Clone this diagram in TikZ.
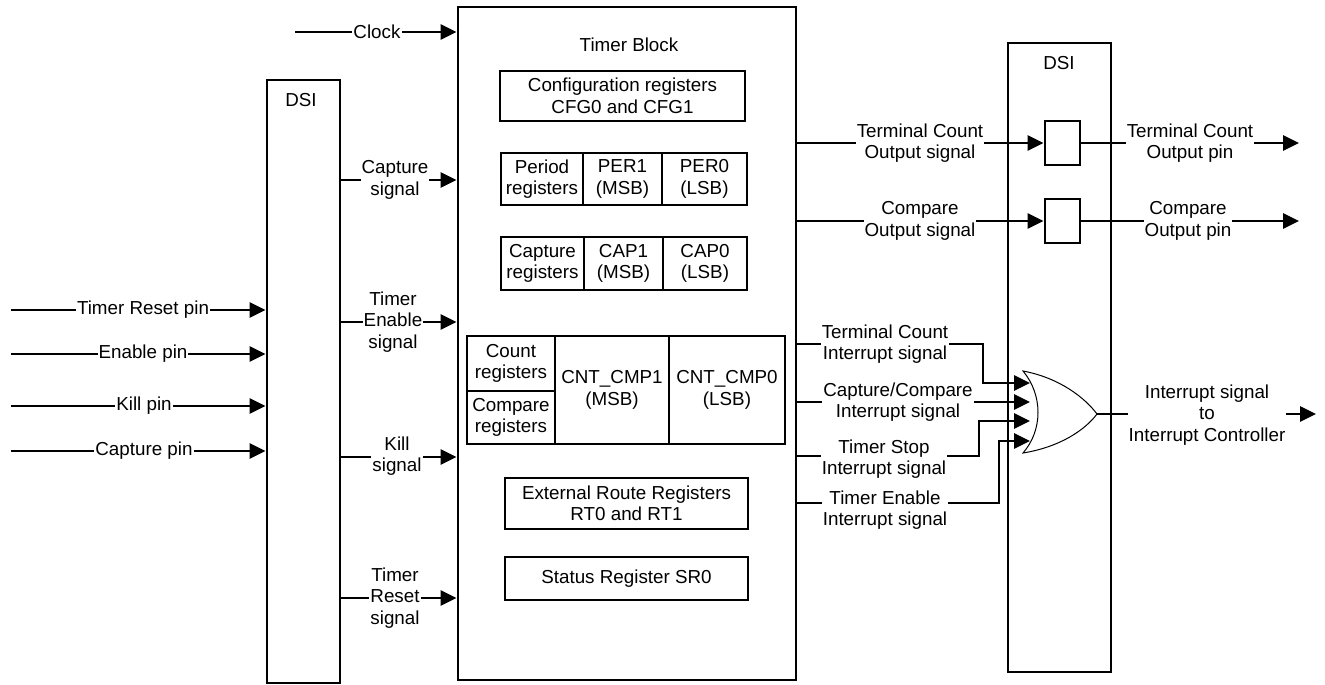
\documentclass[tikz,border=0pt]{standalone}
\usepackage{fontspec}
\setmainfont{Liberation Sans}
\usetikzlibrary{arrows.meta}
\begin{document}
\begin{tikzpicture}[x=1pt,y=-1pt,
  font=\fontsize{18.8}{21.5}\selectfont,
  box/.style={draw, line width=2.8pt, inner sep=0pt, align=center},
  wire/.style={line width=2.8pt},
  arr/.style={wire, -{Triangle[length=16pt,width=15pt]}},
  lab/.style={fill=white, inner sep=1pt, align=center},
  txt/.style={inner sep=0pt, align=center},
]
\useasboundingbox (0,0) rectangle (1325,685);

% main blocks
\node[box, minimum width=73, minimum height=603] (dsiL) at (303.5,381.5) {};
\node[box, minimum width=338, minimum height=673] (tb) at (627,343.5) {};
\node[box, minimum width=103, minimum height=629] (dsiR) at (1059.5,357.5) {};
\node[txt] (dsiLt) at (301,100) {DSI};
\node[txt] (dsiRt) at (1059,63) {DSI};
\node[txt] (tbt) at (629,45) {Timer Block};

% registers
\node[box, minimum width=245, minimum height=50] (cfg) at (622.5,96) {Configuration registers\\CFG0 and CFG1};
\node[box, minimum width=82, minimum height=52] (per) at (542,179) {Period\\registers};
\node[box, minimum width=79, minimum height=52] (per1) at (622.5,179) {PER1\\(MSB)};
\node[box, minimum width=85, minimum height=52] (per0) at (704.5,179) {PER0\\(LSB)};
\node[box, minimum width=83, minimum height=53] (cap) at (542.5,263.5) {Capture\\registers};
\node[box, minimum width=79, minimum height=53] (cap1) at (623.5,263.5) {CAP1\\(MSB)};
\node[box, minimum width=84, minimum height=53] (cap0) at (705,263.5) {CAP0\\(LSB)};
\node[box, minimum width=88, minimum height=55] (cnt) at (511,363.5) {Count\\registers};
\node[box, minimum width=88, minimum height=53] (cmp) at (511,417.5) {Compare\\registers};
\node[box, minimum width=114, minimum height=108] (cc1) at (612,390) {CNT\_CMP1\\(MSB)};
\node[box, minimum width=116, minimum height=108] (cc0) at (727,390) {CNT\_CMP0\\(LSB)};
\node[box, minimum width=243, minimum height=51] (rt) at (626.5,503.5) {External Route Registers\\RT0 and RT1};
\node[box, minimum width=243, minimum height=43] (sr) at (626.5,578.5) {Status Register SR0};

% flip-flops in right DSI
\node[box, minimum width=35, minimum height=44] (ff1) at (1062.5,143) {};
\node[box, minimum width=35, minimum height=44] (ff2) at (1062.5,221) {};

% pins into left DSI
\coordinate (p1) at (11,310);
\coordinate (p2) at (11,354);
\coordinate (p3) at (11,406);
\coordinate (p4) at (11,451);
\draw[arr] (p1) -- (p1 -| dsiL.west);
\draw[arr] (p2) -- (p2 -| dsiL.west);
\draw[arr] (p3) -- (p3 -| dsiL.west);
\draw[arr] (p4) -- (p4 -| dsiL.west);
\node[lab] (l1) at (143,310) {Timer Reset pin};
\node[lab] (l2) at (143,354) {Enable pin};
\node[lab] (l3) at (144,406) {Kill pin};
\node[lab] (l4) at (144,451) {Capture pin};

% clock
\coordinate (clk) at (295,32);
\draw[arr] (clk) -- (clk -| tb.west);
\node[lab] (lclk) at (377,32) {Clock};

% signals left DSI -> timer
\coordinate (s1) at (0,180);
\coordinate (s2) at (0,322);
\coordinate (s3) at (0,457);
\coordinate (s4) at (0,598);
\draw[arr] (s1 -| dsiL.east) -- (s1 -| tb.west);
\draw[arr] (s2 -| dsiL.east) -- (s2 -| tb.west);
\draw[arr] (s3 -| dsiL.east) -- (s3 -| tb.west);
\draw[arr] (s4 -| dsiL.east) -- (s4 -| tb.west);
\node[lab] (ls1) at (395,180) {Capture\\signal};
\node[lab] (ls2) at (393,322) {Timer\\Enable\\signal};
\node[lab] (ls3) at (397,456) {Kill\\signal};
\node[lab] (ls4) at (395,598) {Timer\\Reset\\signal};

% outputs
\draw[arr] (ff1.west -| tb.east) -- (ff1.west);
\draw[arr] (ff2.west -| tb.east) -- (ff2.west);
\coordinate (o1) at (1299,143);
\coordinate (o2) at (1299,221);
\draw[arr] (ff1.east) -- (o1);
\draw[arr] (ff2.east) -- (o2);
\node[lab] (lo1) at (920,143) {Terminal Count\\Output signal};
\node[lab] (lo2) at (920,221) {Compare\\Output signal};
\node[lab] (lp1) at (1190,143) {Terminal Count\\Output pin};
\node[lab] (lp2) at (1188,221) {Compare\\Output pin};

% OR gate
\coordinate (i1) at (1030,383);
\coordinate (i2) at (1030,402);
\coordinate (i3) at (1030,421);
\coordinate (i4) at (1030,441);
\coordinate (orout) at (1097,414);
\draw[line width=1pt] (1023,371) .. controls (1043,395) and (1043,430) .. (1023,453)
  .. controls (1060,447) and (1085,430) .. (orout)
  .. controls (1085,398) and (1060,378) .. cycle;

\draw[arr] (tb.east |- 0,344) -| (983,383) -- (i1);
\draw[arr] (tb.east |- 0,402) -- (i2);
\draw[arr] (tb.east |- 0,456) -| (979,421) -- (i3);
\draw[arr] (tb.east |- 0,503) -| (999,441) -- (i4);
\node[lab] (li1) at (885,344) {Terminal Count\\Interrupt signal};
\node[lab] (li2) at (898,402) {Capture/Compare\\Interrupt signal};
\node[lab] (li3) at (884,459) {Timer Stop\\Interrupt signal};
\node[lab] (li4) at (885,510) {Timer Enable\\Interrupt signal};

\coordinate (ic) at (1316,414);
\draw[arr] (orout) -- (ic);
\node[lab] (lic) at (1207,415) {Interrupt signal\\to\\Interrupt Controller};
\end{tikzpicture}
\end{document}
